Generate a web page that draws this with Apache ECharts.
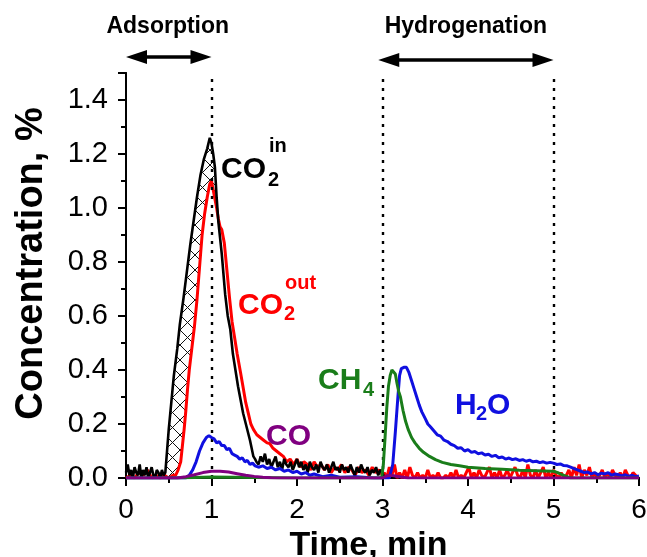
<!DOCTYPE html>
<html>
<head>
<meta charset="utf-8">
<script src="https://cdn.jsdelivr.net/npm/echarts@6/dist/echarts.min.js"></script>
<style>
  html, body { margin: 0; padding: 0; background: #fff; }
  #chart { width: 647px; height: 557px; }
</style>
</head>
<body>
<div id="chart"></div>
<script>
// Gas concentrations during CO2 adsorption and hydrogenation, [time (min), concentration (%)]
const co2In = [
  [0.00,0.02],[0.02,0.05],[0.04,0.01],[0.06,0.03],[0.08,0.00],[0.10,0.04],[0.12,0.02],[0.14,0.01],
  [0.16,0.05],[0.18,0.00],[0.20,0.03],[0.22,0.01],[0.24,0.04],[0.26,0.00],[0.28,0.02],[0.30,0.04],
  [0.32,0.01],[0.34,0.00],[0.36,0.03],[0.38,0.02],[0.40,0.00],[0.42,0.03],[0.44,0.01],[0.46,0.02],
  [0.48,0.10],[0.50,0.18],[0.53,0.28],[0.56,0.38],[0.60,0.48],[0.63,0.57],[0.67,0.66],[0.71,0.76],
  [0.75,0.86],[0.79,0.95],[0.83,1.04],[0.87,1.12],[0.91,1.18],[0.95,1.22],[0.98,1.26],[1.00,1.24],
  [1.02,1.20],[1.04,1.15],[1.06,1.04],[1.08,0.95],[1.10,0.89],[1.12,0.83],[1.16,0.68],[1.19,0.60],
  [1.22,0.55],[1.25,0.46],[1.28,0.40],[1.31,0.34],[1.34,0.29],[1.37,0.24],[1.41,0.19],[1.45,0.14],
  [1.49,0.08],[1.51,0.07],[1.525,0.06],[1.55,0.05],[1.575,0.08],[1.60,0.06],[1.625,0.09],[1.65,0.05],
  [1.675,0.07],[1.70,0.04],[1.725,0.06],[1.75,0.08],[1.775,0.04],[1.80,0.06],[1.825,0.03],[1.85,0.07],
  [1.875,0.05],[1.90,0.04],[1.925,0.06],[1.95,0.03],[1.975,0.05],[2.00,0.07],[2.025,0.04],[2.05,0.06],
  [2.075,0.03],[2.10,0.05],[2.125,0.02],[2.15,0.06],[2.175,0.04],[2.20,0.03],[2.225,0.05],[2.25,0.02],
  [2.275,0.06],[2.30,0.04],[2.325,0.03],[2.35,0.05],[2.375,0.02],[2.40,0.04],[2.425,0.06],[2.45,0.03],
  [2.475,0.04],[2.50,0.02],[2.525,0.05],[2.55,0.03],[2.575,0.04],[2.60,0.02],[2.625,0.05],[2.65,0.03],
  [2.675,0.01],[2.70,0.04],[2.725,0.02],[2.75,0.05],[2.775,0.03],[2.80,0.02],[2.825,0.04],[2.85,0.01],
  [2.875,0.03],[2.90,0.02],[2.925,0.04],[2.95,0.01],[2.975,0.03],[3.00,0.02],[3.02,0.00]
];

const co2Out = [
  [0.00,0.00],[0.05,0.01],[0.10,0.00],[0.15,0.02],[0.20,0.01],[0.25,0.03],[0.30,0.00],[0.35,0.01],
  [0.40,0.00],[0.45,0.01],[0.50,0.00],[0.55,0.01],[0.58,0.01],[0.61,0.03],[0.64,0.06],[0.66,0.12],
  [0.68,0.18],[0.70,0.25],[0.72,0.33],[0.74,0.40],[0.77,0.48],[0.80,0.56],[0.83,0.66],[0.86,0.78],
  [0.89,0.90],[0.92,0.98],[0.95,1.04],[0.98,1.09],[1.00,1.10],[1.03,1.05],[1.06,1.00],[1.08,0.96],
  [1.10,0.93],[1.12,0.92],[1.15,0.87],[1.18,0.77],[1.21,0.67],[1.24,0.58],[1.27,0.52],[1.30,0.46],
  [1.34,0.39],[1.37,0.335],[1.40,0.28],[1.43,0.24],[1.46,0.20],[1.49,0.18],[1.53,0.16],[1.57,0.15],
  [1.61,0.14],[1.65,0.13],[1.68,0.128],[1.72,0.11],[1.76,0.10],[1.80,0.09],[1.84,0.08],[1.88,0.06],
  [1.92,0.07],[1.96,0.05],[2.00,0.07],[2.04,0.04],[2.08,0.06],[2.12,0.05],[2.16,0.03],[2.20,0.06],
  [2.24,0.04],[2.28,0.05],[2.32,0.03],[2.36,0.05],[2.40,0.02],[2.44,0.04],[2.48,0.03],[2.52,0.05],
  [2.56,0.02],[2.60,0.04],[2.64,0.03],[2.68,0.01],[2.72,0.04],[2.76,0.02],[2.80,0.03],[2.84,0.01],
  [2.88,0.04],[2.92,0.02],[2.96,0.03],[3.00,0.01],[3.02,0.02],[3.05,0.00],[3.08,0.04],[3.11,0.01],
  [3.14,0.05],[3.17,0.00],[3.20,0.02],[3.23,0.00],[3.26,0.03],[3.29,0.00],[3.32,0.04],[3.35,0.01],
  [3.38,0.00],[3.41,0.02],[3.44,0.00],[3.47,0.01],[3.50,0.00],[3.53,0.03],[3.56,0.00],[3.59,0.01],
  [3.62,0.00],[3.65,0.02],[3.68,0.00],[3.71,0.00],[3.74,0.01],[3.77,0.00],[3.80,0.02],[3.83,0.00],
  [3.86,0.03],[3.89,0.00],[3.92,0.01],[3.95,0.00],[3.98,0.02],[4.01,0.04],[4.04,0.00],[4.07,0.02],
  [4.10,0.00],[4.13,0.03],[4.16,0.01],[4.19,0.00],[4.22,0.02],[4.25,0.04],[4.28,0.00],[4.31,0.02],
  [4.34,0.00],[4.37,0.03],[4.40,0.00],[4.43,0.01],[4.46,0.03],[4.49,0.00],[4.52,0.02],[4.55,0.04],
  [4.58,0.01],[4.61,0.00],[4.64,0.03],[4.67,0.00],[4.70,0.05],[4.73,0.01],[4.76,0.00],[4.79,0.03],
  [4.82,0.00],[4.85,0.02],[4.88,0.04],[4.91,0.00],[4.94,0.02],[4.97,0.00],[5.00,0.03],[5.03,0.01],
  [5.06,0.00],[5.09,0.02],[5.12,0.00],[5.15,0.01],[5.18,0.03],[5.21,0.00],[5.24,0.04],[5.27,0.01],
  [5.30,0.05],[5.33,0.00],[5.36,0.03],[5.39,0.01],[5.42,0.04],[5.45,0.00],[5.48,0.02],[5.51,0.00],
  [5.54,0.01],[5.57,0.03],[5.60,0.00],[5.63,0.02],[5.66,0.00],[5.69,0.03],[5.72,0.01],[5.75,0.00],
  [5.78,0.02],[5.81,0.00],[5.84,0.03],[5.87,0.01],[5.90,0.00],[5.93,0.02],[5.96,0.01],[5.99,0.00]
];

const h2o = [
  [0.00,0.00],[0.70,0.00],[0.74,0.01],[0.78,0.03],[0.82,0.06],[0.86,0.10],[0.90,0.13],[0.94,0.15],
  [0.97,0.157],[1.00,0.15],[1.03,0.145],[1.06,0.13],[1.09,0.135],[1.12,0.12],[1.15,0.12],[1.18,0.105],
  [1.21,0.11],[1.24,0.09],[1.27,0.085],[1.30,0.08],[1.33,0.07],[1.36,0.075],[1.39,0.06],[1.42,0.065],
  [1.45,0.05],[1.48,0.055],[1.51,0.045],[1.55,0.04],[1.60,0.045],[1.65,0.035],[1.70,0.04],[1.75,0.03],
  [1.80,0.035],[1.85,0.025],[1.90,0.03],[1.95,0.02],[2.00,0.025],[2.05,0.015],[2.10,0.02],[2.15,0.01],
  [2.20,0.015],[2.30,0.005],[2.40,0.01],[2.50,0.003],[2.70,0.005],[2.90,0.00],[3.08,0.00],[3.12,0.05],
  [3.15,0.17],[3.18,0.30],[3.20,0.38],[3.22,0.405],[3.25,0.41],[3.28,0.41],[3.31,0.39],[3.34,0.36],
  [3.37,0.33],[3.40,0.30],[3.43,0.27],[3.46,0.245],[3.50,0.22],[3.53,0.20],[3.56,0.19],[3.60,0.175],
  [3.64,0.16],[3.68,0.155],[3.72,0.14],[3.76,0.135],[3.80,0.125],[3.84,0.12],[3.88,0.11],[3.92,0.112],
  [3.96,0.10],[4.00,0.105],[4.04,0.095],[4.08,0.098],[4.12,0.09],[4.16,0.093],[4.20,0.085],[4.24,0.088],
  [4.28,0.08],[4.32,0.084],[4.36,0.075],[4.40,0.078],[4.44,0.07],[4.48,0.074],[4.52,0.068],[4.56,0.071],
  [4.60,0.065],[4.64,0.068],[4.68,0.062],[4.72,0.066],[4.76,0.06],[4.80,0.062],[4.84,0.057],[4.88,0.06],
  [4.92,0.055],[4.96,0.058],[5.00,0.055],[5.04,0.05],[5.08,0.052],[5.12,0.046],[5.16,0.045],[5.20,0.04],
  [5.24,0.035],[5.28,0.03],[5.32,0.025],[5.36,0.02],[5.40,0.022],[5.44,0.015],[5.48,0.02],[5.52,0.012],
  [5.56,0.018],[5.60,0.015],[5.64,0.02],[5.68,0.01],[5.72,0.015],[5.76,0.012],[5.80,0.008],[5.84,0.012],
  [5.88,0.006],[5.92,0.01],[5.96,0.005],[6.00,0.008]
];

const ch4 = [
  [0.00,0.00],[0.60,0.00],[1.00,0.004],[1.50,0.002],[2.00,0.00],[2.99,0.00],[3.01,0.05],[3.03,0.15],
  [3.05,0.26],[3.07,0.34],[3.09,0.38],[3.11,0.40],[3.13,0.40],[3.15,0.385],[3.17,0.35],[3.19,0.32],
  [3.21,0.30],[3.24,0.25],[3.27,0.21],[3.30,0.18],[3.34,0.15],[3.38,0.13],[3.43,0.11],[3.48,0.095],
  [3.55,0.08],[3.62,0.068],[3.70,0.058],[3.80,0.05],[3.90,0.045],[4.00,0.04],[4.20,0.035],[4.40,0.032],
  [4.60,0.029],[4.80,0.027],[5.00,0.025],[5.05,0.02],[5.10,0.012],[5.15,0.006],[5.20,0.00],[6.00,0.00]
];

const co = [
  [0.00,0.00],[0.60,0.00],[0.70,0.005],[0.80,0.012],[0.90,0.02],[1.00,0.025],[1.10,0.025],[1.20,0.022],
  [1.30,0.016],[1.40,0.01],[1.50,0.006],[1.60,0.003],[1.70,0.001],[1.80,0.00],[3.00,0.00],[3.05,0.008],
  [3.10,0.01],[3.20,0.005],[3.30,0.00],[6.00,0.00]
];

// stage boundaries (min)
const stageLines = [1, 3, 5];
const stages = [
  { name: 'Adsorption', from: 0, to: 1 },
  { name: 'Hydrogenation', from: 2.95, to: 5 }
];
// time window where the inlet curve runs ahead of the outlet curve (hatched)
const hatchRange = [0.46, 1.08];

const FONT = '"Liberation Sans", Arial, Helvetica, sans-serif';

// cross-hatch tile
function hatchTile() {
  const n = 15;
  const c = document.createElement('canvas');
  c.width = n; c.height = n;
  const g = c.getContext('2d');
  g.strokeStyle = '#111';
  g.lineWidth = 1;
  g.beginPath();
  g.moveTo(0, 0); g.lineTo(n, n);
  g.moveTo(0, n); g.lineTo(n, 0);
  g.stroke();
  return c;
}
const tile = hatchTile();

const hatchTop = co2In.filter(p => p[0] >= hatchRange[0] && p[0] <= hatchRange[1]);
const hatchBottom = co2Out.filter(p => p[0] >= hatchRange[0] && p[0] <= hatchRange[1]).reverse();

const chart = echarts.init(document.getElementById('chart'), null, { renderer: 'canvas' });

const lineSeries = (name, data, color, width, z) => ({
  name, type: 'line', data, showSymbol: false, symbol: 'none',
  lineStyle: { color, width }, z, silent: true, animation: false
});

const tickStyle = { color: '#000', width: 2 };

chart.setOption({
  animation: false,
  grid: {
    left: 126, right: 8, top: 73, bottom: 79,
    containLabel: false, outerBoundsMode: 'none'
  },
  xAxis: [{
    type: 'value', min: 0, max: 6, interval: 1,
    axisLine: { lineStyle: { color: '#000', width: 2 } },
    axisTick: { length: 8, lineStyle: tickStyle },
    minorTick: { show: true, splitNumber: 2, length: 5, lineStyle: tickStyle },
    splitLine: { show: false },
    axisLabel: { fontSize: 28, color: '#000', margin: 18, fontFamily: FONT },
    name: 'Time, min', nameLocation: 'middle', nameGap: 48,
    nameTextStyle: {
      fontSize: 34, fontWeight: 'bold', color: '#000', fontFamily: FONT,
      padding: [0, 28, 0, 0]
    }
  }, {
    type: 'value', min: 0, max: 6, position: 'top',
    axisLine: { lineStyle: { color: '#000', width: 2 } },
    axisTick: { show: false }, axisLabel: { show: false }, splitLine: { show: false }
  }],
  yAxis: [{
    type: 'value', min: 0, max: 1.5, interval: 0.2,
    axisLine: { lineStyle: { color: '#000', width: 2 } },
    axisTick: { length: 8, lineStyle: tickStyle },
    minorTick: { show: true, splitNumber: 2, length: 5, lineStyle: tickStyle },
    splitLine: { show: false },
    axisLabel: {
      fontSize: 29, color: '#000', margin: 18, fontFamily: FONT,
      showMaxLabel: false, formatter: v => v.toFixed(1)
    },
    name: 'Concentration, %', nameLocation: 'middle', nameGap: 75, nameRotate: 90,
    nameTextStyle: {
      fontSize: 38, fontWeight: 'bold', color: '#000', fontFamily: FONT,
      padding: [0, 0, 0, 24]
    }
  }, {
    type: 'value', min: 0, max: 1.5, position: 'right',
    axisLine: { lineStyle: { color: '#000', width: 2 } },
    axisTick: { show: false }, axisLabel: { show: false }, splitLine: { show: false }
  }],
  series: [
    {
      type: 'custom', name: 'hatch', data: [[0, 0]], z: 1, silent: true, clip: true,
      renderItem: (params, api) => {
        const pts = hatchTop.concat(hatchBottom).map(p => api.coord(p));
        return {
          type: 'polygon',
          shape: { points: pts },
          style: { fill: { image: tile, repeat: 'repeat' }, stroke: null }
        };
      }
    },
    Object.assign(lineSeries('CO2 out', co2Out, '#ff0000', 3, 3), {
      markLine: {
        silent: true, symbol: ['none', 'none'], label: { show: false },
        lineStyle: { color: '#000', type: [3, 6], width: 2.4 },
        data: stageLines.map(v => ({ xAxis: v }))
      }
    }),
    lineSeries('CO2 in', co2In, '#000000', 2.6, 4),
    lineSeries('H2O', h2o, '#1010e0', 3, 5),
    lineSeries('CH4', ch4, '#1a7d1a', 3, 6),
    lineSeries('CO', co, '#800080', 3, 7)
  ]
});

// arrows and series names
function buildGraphics() {
  const px = t => chart.convertToPixel({ xAxisIndex: 0 }, t);
  const elements = [];
  const arrowY = [57, 60];
  stages.forEach((s, i) => {
    const x1 = px(s.from), x2 = px(s.to), y = arrowY[i];
    const head = 21, half = 7;
    elements.push({
      type: 'text', z: 10,
      style: {
        text: s.name, x: (x1 + x2) / 2 + (i === 0 ? -1 : 0), y: 27,
        align: 'center', verticalAlign: 'middle',
        font: 'bold 23px ' + FONT, fill: '#000'
      }
    });
    elements.push({
      type: 'line', z: 10,
      shape: { x1: x1 + head - 2, y1: y, x2: x2 - head + 2, y2: y },
      style: { stroke: '#000', lineWidth: 3.5 }
    });
    elements.push({
      type: 'polygon', z: 10,
      shape: { points: [[x1, y], [x1 + head, y - half], [x1 + head, y + half]] },
      style: { fill: '#000' }
    });
    elements.push({
      type: 'polygon', z: 10,
      shape: { points: [[x2, y], [x2 - head, y - half], [x2 - head, y + half]] },
      style: { fill: '#000' }
    });
  });

  const big = 'bold 30px ' + FONT, small = 'bold 20px ' + FONT;
  const txt = (text, x, y, font, fill) => ({
    type: 'text', z: 10,
    style: { text, x, y, font, fill, align: 'left', verticalAlign: 'alphabetic' }
  });
  // CO2 in
  elements.push(txt('CO', 221, 155, big, '#000'));
  elements.push(txt('in', 269, 136, small, '#000'));
  elements.push(txt('2', 268, 170, small, '#000'));
  // CO2 out
  elements.push(txt('CO', 238, 291, big, '#ff0000'));
  elements.push(txt('out', 285, 273, small, '#ff0000'));
  elements.push(txt('2', 284, 304, small, '#ff0000'));
  // CH4
  elements.push(txt('CH', 318, 366, big, '#1a7d1a'));
  elements.push(txt('4', 363, 380, small, '#1a7d1a'));
  // H2O
  elements.push(txt('H', 455, 391, big, '#1010e0'));
  elements.push(txt('2', 476, 404, small, '#1010e0'));
  elements.push(txt('O', 487, 391, big, '#1010e0'));
  // CO
  elements.push(txt('CO', 266, 422, big, '#800080'));

  chart.setOption({ graphic: { elements } });
}
buildGraphics();
</script>
</body>
</html>
